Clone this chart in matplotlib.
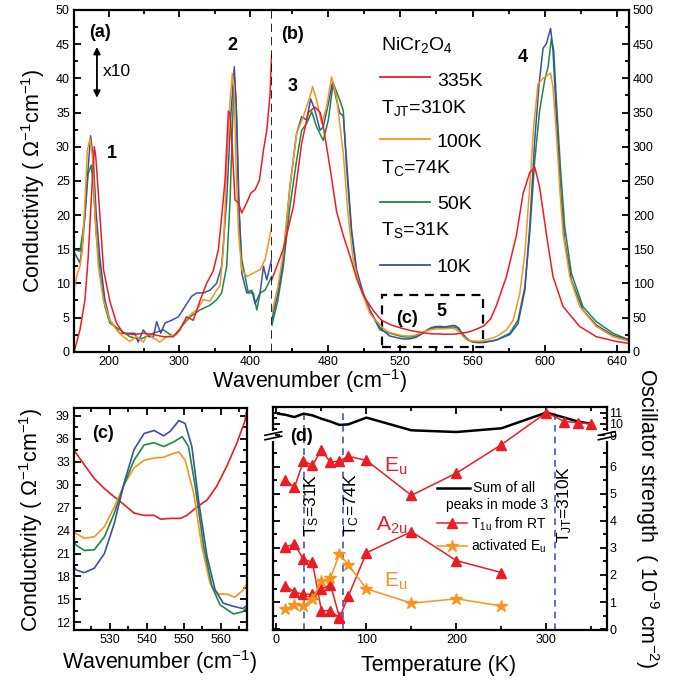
import numpy as np
import matplotlib
matplotlib.use("Agg")
import matplotlib.pyplot as plt
from matplotlib.ticker import MultipleLocator, FixedLocator
from matplotlib.patches import Rectangle

plt.rcParams['font.family'] = ['Liberation Sans', 'DejaVu Sans']
plt.rcParams['mathtext.fontset'] = 'custom'
plt.rcParams['mathtext.rm'] = 'Liberation Sans'
plt.rcParams['mathtext.it'] = 'Liberation Sans:italic'
plt.rcParams['mathtext.bf'] = 'Liberation Sans:bold'

# ---- panel (a): far-IR conductivity (x10 scale) ----
wn_a_335 = [151, 158.5, 165.6, 170, 174.5, 178.9, 181, 187, 192, 201, 210.5, 220, 234, 248.6, 262.8,
            277, 291, 300.8, 310, 319.7, 329, 338.6, 348, 355.3, 360, 364.8, 369.6, 372, 375.3, 379,
            384, 388.6, 395.7, 401.4, 407.6, 413.8, 419.5, 424.2, 428.9, 431]
s_a_335 = [0.3, 3.2, 7.6, 13.5, 22.2, 30.0, 28.5, 19.7, 12.0, 7.4, 4.2, 2.7, 2.5, 2.7, 2.5,
           2.2, 2.2, 3.2, 5.1, 4.6, 7.4, 10.0, 11.8, 14.9, 19.7, 25.0, 35.2, 34.8, 29.5, 22.2,
           21.8, 20.3, 21.8, 23.2, 23.7, 25.1, 29.5, 32.4, 37.7, 43.4]

wn_a_100 = [151, 155, 158.5, 162, 165.6, 169, 172.8, 176.6, 180, 184.6, 191.7, 201, 210.5, 220, 229.5,
            239, 248.6, 255.9, 262, 267.7, 272, 281.9, 296, 305.5, 317.3, 324.5, 334, 343.4, 352.8,
            357.7, 362.4, 367.2, 372, 375.3, 377.7, 380.5, 384, 388.6, 395.7, 405, 414.7, 421.8,
            426.5, 431]
s_a_100 = [9.6, 11.5, 12.5, 15.0, 22.0, 29.5, 31.2, 28.2, 19.7, 12.5, 7.6, 4.6, 3.2, 2.2, 1.5,
           2.2, 1.4, 2.7, 2.0, 1.8, 1.4, 2.2, 2.5, 4.2, 5.6, 6.1, 7.6, 7.4, 9.0,
           9.6, 14.9, 27.0, 36.8, 40.7, 38.7, 27.0, 17.3, 12.0, 11.0, 11.5, 12.0, 13.5,
           15.9, 18.3]

wn_a_50 = [151, 158.5, 165.6, 170, 174.5, 177.7, 181.5, 187, 194, 201, 215.3, 229.5, 243.8, 262.8,
           277, 291.3, 303, 315, 329, 343.4, 352.8, 360, 367.2, 372, 375.8, 378, 380.5, 384,
           388.6, 393.4, 398, 405, 410, 414.7, 421.8, 426.5, 431]
s_a_50 = [14.9, 14.7, 19.7, 26.0, 27.3, 24.1, 17.3, 11.5, 6.6, 4.2, 3.2, 2.2, 1.8, 2.7,
          3.2, 2.2, 3.7, 5.1, 6.1, 6.8, 7.6, 8.6, 12.5, 22.2, 34.3, 40.2, 36.8, 22.2,
          13.5, 11.0, 8.6, 8.6, 6.1, 8.6, 9.0, 10.0, 11.0]

wn_a_10 = [151, 158.5, 163, 168, 173.6, 177.3, 181.5, 187, 194, 201, 215, 229.5, 236.6, 241.3,
           248.6, 255.9, 262.8, 267.6, 273.3, 279.4, 289, 298.4, 307.8, 317.3, 324.5, 334,
           343.4, 352.8, 360, 367.2, 372.9, 378, 381.4, 385.2, 388.6, 395.7, 402.8, 407.6,
           414.7, 419.5, 424.2, 431]
s_a_10 = [14.4, 13.0, 16.5, 24.0, 31.6, 28.5, 20.3, 13.5, 7.6, 4.6, 2.7, 2.7, 2.7, 1.4,
          3.2, 2.2, 2.2, 4.4, 2.7, 4.2, 4.6, 5.1, 6.6, 8.1, 8.6, 8.6,
          9.0, 10.0, 12.5, 22.2, 34.3, 41.7, 34.3, 19.7, 11.5, 8.6, 9.0, 7.0,
          8.6, 12.5, 10.5, 13.5]

# ---- panel (b)/(c): mid-IR conductivity ----
wn_b_335 = [448.6, 455, 460.6, 465.2, 468.9, 472.6, 475.5, 477.2, 480.9, 484.6, 488.3, 492, 496,
            500, 505, 509.5, 515, 521, 523.2, 525.9, 528.6, 531.3, 533.9, 536.6, 539.3, 542,
            543.8, 546.4, 549.1, 550.9, 553.6, 556.3, 558.9, 561.6, 564.3, 566.5, 570, 573.3,
            578.8, 584.3, 588, 591.7, 594.5, 597.2, 600.9, 604.6, 610.2, 619.4, 628.6, 639.7, 647]
s_b_335 = [105, 150, 212, 305, 350, 358, 350, 330, 270, 205, 170, 140, 105,
           80, 60, 46, 39, 34.1, 32.6, 30.8, 29.5, 28.4, 27.4, 26.3, 26.0, 26.0,
           25.5, 25.6, 25.6, 26.0, 27.1, 28.0, 29.8, 32.4, 35.4, 38.3, 48, 68,
           110, 170, 231, 262, 270, 241, 173, 110, 66, 37, 22, 15, 12]

wn_b_100 = [448.6, 452, 455, 458.7, 462.4, 466.1, 469.8, 471.3, 473.5, 476.3, 479, 481.8, 484.6,
            488.3, 491, 493.8, 497.5, 503, 510.4, 514,
            521, 523.2, 525.9, 528.6, 531.3, 533.9, 536.6, 539.3, 542, 544.6, 547.3, 548.7,
            550.4, 552.7, 554.9, 557.1, 559.4, 561.6, 563.8, 566,
            573.2, 578.8, 582.5, 586.2, 589, 591.7, 593.9, 596.3, 599.1, 601.9, 603.2, 604.6,
            606.5, 608.3, 610.2, 613.9, 619.4, 628.6, 637.9, 647.1]
s_b_100 = [56, 95, 144, 241, 319, 344, 373, 388, 368, 334, 358, 402, 373,
           290, 200, 134, 95, 56, 34, 28,
           23.6, 23.0, 23.2, 24.5, 27.1, 30.0, 32.2, 33.2, 33.5, 33.6, 34.1, 34.3,
           33.2, 28.9, 21.9, 17.1, 15.7, 15.7, 15.3, 16.2,
           22, 32, 46, 85, 144, 241, 329, 392, 400, 405, 408, 387,
           319, 241, 173, 110, 66, 37, 22, 15]

wn_b_50 = [448.6, 452, 455, 458.7, 462.4, 465.2, 468, 470.8, 473.5, 477.2, 480, 482.7, 486.4,
           488.3, 490.1, 492.9, 495.7, 499.4, 503, 508.6, 514,
           521, 523.2, 525.9, 528.6, 531.3, 533.9, 536.6, 539.3, 542, 544.6, 547.3, 549.6,
           551.3, 553.1, 555.4, 557.6, 559.8, 563.4, 566,
           573.2, 580.6, 585.2, 589, 591.7, 594.5, 597.2, 600, 601.9, 603.7, 605, 606.5,
           608.7, 611.1, 614.8, 621.2, 628.6, 637.9, 647.1]
s_b_50 = [37.6, 75, 124, 212, 280, 324, 334, 351, 329, 309, 339, 393, 368,
          353, 270, 173, 115, 85, 61, 32, 27,
          22.1, 21.4, 21.5, 23.2, 26.3, 30.0, 33.2, 35.2, 35.5, 35.0, 35.6, 36.3,
          35.0, 29.8, 21.9, 16.7, 14.3, 13.1, 13.4,
          17, 27, 46, 95, 173, 280, 353, 397, 417, 458, 441, 368,
          271, 183, 115, 66, 44, 27, 17]

wn_b_10 = [448.6, 452, 455, 458.7, 462.4, 465.2, 468, 470.2, 472.6, 475.4, 477.2, 480, 482.4,
           484.6, 486.4, 488.3, 490.1, 492.9, 495.7, 499.4, 503, 508.6, 514,
           521, 523.2, 525.9, 528.6, 531.3, 533.9, 536.6, 539.3, 542, 544.6, 546.4, 548.7,
           550.4, 552.2, 554, 556.3, 558.5, 560.7, 563.4, 566,
           573.2, 580.6, 585.2, 589, 591.7, 594.5, 596.9, 599.1, 601, 602.4, 603.3, 604.6,
           606.5, 608.7, 611.1, 614.8, 621.2, 628.6, 637.9, 647.1]
s_b_10 = [46, 85, 134, 241, 319, 344, 339, 370, 353, 324, 329, 363, 395,
          368, 349, 345, 280, 178, 120, 85, 61, 35, 23,
          18.85, 18.5, 19.1, 21.0, 25.0, 30.2, 34.6, 36.7, 37.1, 36.4, 37.0, 38.4,
          38.0, 35.0, 28.0, 20.6, 16.2, 14.5, 14.1, 13.8,
          17, 25, 41, 90, 183, 310, 392, 444, 451, 465, 473, 441,
          344, 241, 163, 105, 61, 39, 24, 17]

# ---- panel (d): oscillator strength vs temperature ----
T_sum = [2, 10, 20, 30, 40, 50, 60, 70, 80, 100, 150, 200, 250, 300, 320, 335, 350]
osc_sum = [10.9, 10.8, 10.6, 10.9, 10.75, 10.45, 10.2, 9.9, 9.95, 10.55, 9.42, 9.27, 9.6,
           11.0, 10.55, 10.2, 10.0]
T_eu = [10, 20, 30, 40, 50, 60, 70, 80, 100, 150, 200, 250, 300, 320, 335, 350]
osc_eu = [5.5, 5.23, 6.21, 6.05, 6.62, 6.16, 6.21, 6.38, 6.23, 4.94, 5.76, 6.81,
          11.0, 10.2, 10.1, 10.0]
T_a2u = [10, 20, 30, 40, 50, 60, 70, 80, 100, 150, 200, 250]
osc_a2u = [3.04, 3.14, 2.58, 2.47, 0.68, 0.68, 0.41, 1.23, 2.82, 3.6, 2.53, 2.09]
T_low = [10, 20, 30, 40, 50, 60, 70]
osc_low = [1.6, 1.37, 1.29, 1.29, 1.48, 1.64, 0.45]
T_act = [10, 20, 30, 40, 50, 60, 70, 80, 100, 150, 200, 250]
osc_act = [0.74, 0.9, 0.86, 1.11, 1.76, 1.88, 2.78, 2.37, 1.49, 0.96, 1.12, 0.86]
T_marks = [31, 74, 310]

RED, ORG, GRN, BLU = '#ec1c24', '#f7941d', '#1b8a3e', '#3953a4'
DBLUE = '#3d5cb2'

W, H = 679, 683
def rect(l, t, r, b):
    return [l / W, 1 - b / H, (r - l) / W, (b - t) / H]

fig = plt.figure(figsize=(W / 100, H / 100), dpi=100)
ax_a = fig.add_axes(rect(74, 10, 271.7, 351.7))
ax_b = fig.add_axes(rect(271.7, 10, 628.7, 351.7))
ax_c = fig.add_axes(rect(74, 408.3, 246.7, 630))
ax_d = fig.add_axes(rect(273.3, 406.7, 606.7, 630))

def style(ax):
    for sp in ax.spines.values():
        sp.set_linewidth(1.6)
    ax.tick_params(which='both', direction='in', labelsize=9, width=1.3, pad=3)
    ax.tick_params(which='major', length=5)
    ax.tick_params(which='minor', length=3)

lw = 1.1
# (a)
for wn, s, c in [(wn_a_50, s_a_50, GRN), (wn_a_10, s_a_10, BLU), (wn_a_100, s_a_100, ORG),
                 (wn_a_335, s_a_335, RED)]:
    ax_a.plot(wn, s, color=c, lw=lw)
ax_a.set_xlim(150, 431.2)
ax_a.set_ylim(0, 50)
style(ax_a)
ax_a.spines['right'].set_visible(False)
ax_a.xaxis.set_major_locator(FixedLocator([200, 300, 400]))
ax_a.xaxis.set_minor_locator(MultipleLocator(50))
ax_a.yaxis.set_major_locator(MultipleLocator(5))
ax_a.yaxis.set_minor_locator(MultipleLocator(2.5))
ax_a.tick_params(which='both', top=True, right=False)
ax_a.axvline(431.2, color='k', ls=(0, (5, 3)), lw=1.2, clip_on=False)
ax_a.text(187, 46.7, '(a)', ha='center', va='center', fontsize=13, fontweight='bold')
ax_a.text(204, 29, '1', ha='center', va='center', fontsize=13, fontweight='bold')
ax_a.text(374.8, 44.8, '2', ha='center', va='center', fontsize=13, fontweight='bold')
ax_a.annotate('', xy=(0.116, 0.9), xytext=(0.116, 0.735), xycoords='axes fraction',
              arrowprops=dict(arrowstyle='<|-|>', color='k', lw=1.3, mutation_scale=10))
ax_a.text(0.145, 0.819, 'x10', transform=ax_a.transAxes, ha='left', va='center', fontsize=12.5)

# (b)
for wn, s, c in [(wn_b_50, s_b_50, GRN), (wn_b_10, s_b_10, BLU), (wn_b_100, s_b_100, ORG),
                 (wn_b_335, s_b_335, RED)]:
    ax_b.plot(wn, s, color=c, lw=lw)
ax_b.set_xlim(448.6, 646.6)
ax_b.set_ylim(0, 500)
style(ax_b)
ax_b.spines['left'].set_visible(False)
ax_b.xaxis.set_major_locator(MultipleLocator(40))
ax_b.xaxis.set_minor_locator(MultipleLocator(20))
ax_b.yaxis.set_major_locator(MultipleLocator(50))
ax_b.yaxis.set_minor_locator(MultipleLocator(25))
ax_b.tick_params(which='both', top=True, right=True, left=False, labelleft=False, labelright=True)
ax_b.add_patch(Rectangle((510, 7), 56, 76, fill=False, ec='k', lw=1.6, ls=(0, (4, 3))))
ax_b.text(460.4, 464, '(b)', ha='center', va='center', fontsize=13, fontweight='bold')
ax_b.text(460.4, 388, '3', ha='center', va='center', fontsize=13, fontweight='bold')
ax_b.text(587.9, 431, '4', ha='center', va='center', fontsize=13, fontweight='bold')
ax_b.text(523.5, 49, '(c)', ha='center', va='center', fontsize=13, fontweight='bold')
ax_b.text(543, 59, '5', ha='center', va='center', fontsize=13, fontweight='bold')

# legend of (a)/(b) drawn as text rows
tx = ax_b.transAxes
leg_fs = 14
ax_b.text(0.306, 0.883, r'NiCr$_\mathrm{2}$O$_\mathrm{4}$', transform=tx, fontsize=leg_fs, va='baseline')
for y_line, y_txt, lab, c in [(0.803, 0.778, '335K', RED), (0.622, 0.600, '100K', ORG),
                              (0.439, 0.418, '50K', GRN), (0.254, 0.234, '10K', BLU)]:
    ax_b.plot([0.303, 0.443], [y_line, y_line], color=c, lw=1.3, transform=tx)
    ax_b.text(0.463, y_txt, lab, transform=tx, fontsize=leg_fs, va='baseline')
for y_txt, lab in [(0.699, r'T$_\mathrm{JT}$=310K'), (0.522, r'T$_\mathrm{C}$=74K'),
                   (0.342, r'T$_\mathrm{S}$=31K')]:
    ax_b.text(0.306, y_txt, lab, transform=tx, fontsize=leg_fs, va='baseline')

# (c)
for wn, s, c in [(wn_b_335, s_b_335, RED), (wn_b_100, s_b_100, ORG), (wn_b_50, s_b_50, GRN),
                 (wn_b_10, s_b_10, BLU)]:
    ax_c.plot(wn, s, color=c, lw=1.2)
ax_c.set_xlim(520.4, 567)
ax_c.set_ylim(11, 40)
style(ax_c)
ax_c.xaxis.set_major_locator(MultipleLocator(10))
ax_c.xaxis.set_minor_locator(MultipleLocator(5))
ax_c.yaxis.set_major_locator(MultipleLocator(3))
ax_c.yaxis.set_minor_locator(MultipleLocator(1.5))
ax_c.tick_params(which='both', top=True, right=True)
ax_c.text(528.1, 36.7, '(c)', ha='center', va='center', fontsize=13, fontweight='bold')

# (d) with broken y axis
def fwd(y):
    return np.interp(y, [-50, 7.0, 8.65, 50], [-50, 7.0, 7.02, 7.02 + (50 - 8.65) * 0.415])
def inv(t):
    return np.interp(t, [-50, 7.0, 7.02, 7.02 + (50 - 8.65) * 0.415], [-50, 7.0, 8.65, 50])
ax_d.set_yscale('function', functions=(fwd, inv))
for Tm in T_marks:
    ax_d.axvline(Tm, color=DBLUE, ls=(0, (4, 3)), lw=1.2)
ax_d.plot(T_sum, osc_sum, color='k', lw=1.8)
ax_d.plot(T_eu, osc_eu, '-^', color=RED, lw=lw, ms=7)
ax_d.plot(T_a2u, osc_a2u, '-^', color=RED, lw=lw, ms=7)
ax_d.plot(T_low, osc_low, '-^', color=RED, lw=lw, ms=7)
ax_d.plot(T_act, osc_act, '-*', color=ORG, lw=lw, ms=9)
ax_d.set_xlim(-3.5, 367)
ax_d.set_ylim(-0.03, 11.52)
style(ax_d)
ax_d.xaxis.set_major_locator(FixedLocator([0, 100, 200, 300]))
ax_d.xaxis.set_minor_locator(MultipleLocator(50))
ax_d.yaxis.set_major_locator(FixedLocator([0, 1, 2, 3, 4, 5, 6, 9, 10, 11]))
ax_d.yaxis.set_minor_locator(FixedLocator([0.5, 1.5, 2.5, 3.5, 4.5, 5.5, 6.5, 9.5, 10.5]))
ax_d.yaxis.set_major_formatter(matplotlib.ticker.FormatStrFormatter('%d'))
ax_d.yaxis.set_minor_formatter(matplotlib.ticker.NullFormatter())
ax_d.tick_params(which='both', top=True, right=True, labelleft=False, labelright=True)
ax_d.tick_params(axis='y', pad=2)

yb = 0.86
for x0, dx in [(0.0, 0.05), (1.0, 0.05)]:
    ax_d.plot([x0, x0], [yb - 0.004, yb + 0.024], color='white', lw=3, transform=ax_d.transAxes,
              clip_on=False, zorder=5)
    for off in (0.0, 0.02):
        ax_d.plot([x0 - dx / 2, x0 + dx / 2], [yb - 0.008 + off, yb + 0.008 + off], color='k',
                  lw=1.2, transform=ax_d.transAxes, clip_on=False, zorder=6)

ax_d.text(0.085, 0.866, '(d)', transform=ax_d.transAxes, ha='center', va='center',
          fontsize=13, fontweight='bold')
ax_d.text(39.4, 4.58, r'T$_\mathrm{S}$=31K', rotation=90, ha='center', va='center', fontsize=12.5)
ax_d.text(83.7, 4.58, r'T$_\mathrm{C}$=74K', rotation=90, ha='center', va='center', fontsize=12.5)
ax_d.text(320, 4.6, r'T$_\mathrm{JT}$=310K', rotation=90, ha='center', va='center', fontsize=12.5)
ax_d.text(119, 6.0, r'E$_\mathrm{u}$', color=RED, ha='left', va='center', fontsize=15)
ax_d.text(111, 3.85, r'A$_\mathrm{2u}$', color=RED, ha='left', va='center', fontsize=15)
ax_d.text(120, 1.75, r'E$_\mathrm{u}$', color=ORG, ha='left', va='center', fontsize=15)

td = ax_d.transAxes
ax_d.plot([0.491, 0.59], [0.634, 0.634], color='k', lw=1.8, transform=td)
ax_d.text(0.599, 0.634, 'Sum of all', transform=td, fontsize=10, va='center')
ax_d.text(0.517, 0.56, 'peaks in mode 3', transform=td, fontsize=10, va='center')
ax_d.plot([0.49, 0.58], [0.478, 0.478], color=RED, lw=lw, transform=td)
ax_d.plot([0.535], [0.478], '^', color=RED, ms=7, transform=td)
ax_d.text(0.592, 0.455, r'T$_\mathrm{1u}$ from RT', transform=td, fontsize=10, va='baseline')
ax_d.plot([0.49, 0.58], [0.376, 0.376], color=ORG, lw=lw, transform=td)
ax_d.plot([0.535], [0.376], '*', color=ORG, ms=9, transform=td)
ax_d.text(0.592, 0.355, r'activated E$_\mathrm{u}$', transform=td, fontsize=10, va='baseline')

# axis labels
lab_fs = 15.5
fig.text(310 / W, 1 - 381 / H, r'Wavenumber (cm$^{-1}$)', ha='center', va='center', fontsize=lab_fs)
fig.text(33 / W, 1 - 181 / H, r'Conductivity ( Ω$^{-1}$cm$^{-1}$)', ha='center', va='center',
         rotation=90, fontsize=lab_fs)
fig.text(160 / W, 1 - 662 / H, r'Wavenumber (cm$^{-1}$)', ha='center', va='center', fontsize=lab_fs)
fig.text(31 / W, 1 - 520 / H, r'Conductivity ( Ω$^{-1}$cm$^{-1}$)', ha='center', va='center',
         rotation=90, fontsize=lab_fs)
fig.text(439 / W, 1 - 666 / H, 'Temperature (K)', ha='center', va='center', fontsize=lab_fs)
fig.text(647 / W, 1 - 518 / H, r'Oscillator strength  ( 10$^{-9}$ cm$^{-2}$)', ha='center',
         va='center', rotation=-90, fontsize=lab_fs)

fig.savefig('out.png', dpi=100)
